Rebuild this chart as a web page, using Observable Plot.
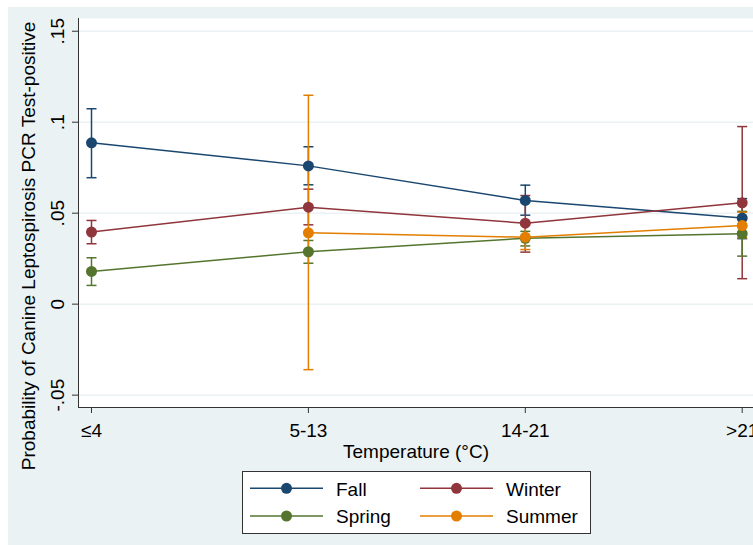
<!DOCTYPE html>
<html><head><meta charset="utf-8">
<script src="https://cdn.jsdelivr.net/npm/d3@7"></script>
<script src="https://cdn.jsdelivr.net/npm/@observablehq/plot@0.6"></script>
<style>
body{margin:0;background:#fff;}
#wrap{position:relative;width:753px;height:545px;overflow:hidden;background:#fff;font-family:"Liberation Sans",Arial,sans-serif;}
#bg{position:absolute;left:8px;top:7px;right:0;bottom:0;background:#eaf2f3;}
#chart{position:absolute;left:0;top:0;}
#legend{position:absolute;left:242px;top:471px;width:347px;height:61px;background:#fff;border:1px solid #333;}
</style></head><body>
<div id="wrap"><div id="bg"></div><div id="chart"></div><div id="legend"></div></div>
<script>
const categories = ["≤4", "5-13", "14-21", ">21"];
const seasons = ["Fall", "Winter", "Spring", "Summer"];
const colors = ["#1a476f", "#90353b", "#55752f", "#e37e00"];

const fallP   = [0.0887, 0.0760, 0.0570, 0.0473];
const fallLo  = [0.0695, 0.0656, 0.0489, 0.0360];
const fallHi  = [0.1074, 0.0865, 0.0654, 0.0580];
const winterP  = [0.0396, 0.0533, 0.0445, 0.0557];
const winterLo = [0.0332, 0.0436, 0.0286, 0.0140];
const winterHi = [0.0460, 0.0632, 0.0597, 0.0976];
const springP  = [0.0180, 0.0288, 0.0362, 0.0387];
const springLo = [0.0103, 0.0225, 0.0320, 0.0264];
const springHi = [0.0255, 0.0350, 0.0400, 0.0510];
const summerP  = [null, 0.0392, 0.0368, 0.0432];
const summerLo = [null, -0.0360, 0.0300, 0.0365];
const summerHi = [null, 0.1148, 0.0435, 0.0505];

const yTicks = [-0.05, 0, 0.05, 0.1, 0.15];
const yTickLabels = ["-.05", "0", ".05", ".1", ".15"];
const yTitle = "Probability of Canine Leptospirosis PCR Test-positive";
const xTitle = "Temperature (°C)";

const series = {
  Fall: [fallP, fallLo, fallHi],
  Winter: [winterP, winterLo, winterHi],
  Spring: [springP, springLo, springHi],
  Summer: [summerP, summerLo, summerHi]
};
const rows = [];
for (const s of seasons) {
  const [P, L, H] = series[s];
  categories.forEach((c, i) => {
    if (P[i] != null) rows.push({season: s, cat: c, pos: i + 1, p: P[i], lo: L[i], hi: H[i]});
  });
}
const caps = rows.flatMap(d => [{season: d.season, pos: d.pos, v: d.lo}, {season: d.season, pos: d.pos, v: d.hi}]);

const capSymbol = {draw(ctx, size) { const h = Math.sqrt(size / Math.PI); ctx.moveTo(-h, 0); ctx.lineTo(h, 0); }};

const xDomain = [0.94007, 4.0521];
const yDomain = [-0.0568, 0.157];
const FONT = "'Liberation Sans', Arial, sans-serif";

const ciMarks = seasons.flatMap(s => [
  Plot.ruleX(rows.filter(d => d.season === s), {x: "pos", y1: "lo", y2: "hi", stroke: "season", strokeWidth: 1.5}),
  Plot.dot(caps.filter(d => d.season === s), {x: "pos", y: "v", stroke: "season", fill: "none", symbol: capSymbol, r: 5, strokeWidth: 1.5})
]);

const chart = Plot.plot({
  width: 753, height: 468,
  marginLeft: 78, marginRight: 0, marginTop: 18, marginBottom: 61,
  style: {background: "transparent", fontFamily: FONT, fontSize: "19px", color: "#000", overflow: "visible"},
  x: {domain: xDomain},
  y: {domain: yDomain},
  color: {domain: seasons, range: colors},
  marks: [
    Plot.frame({fill: "white", stroke: null}),
    Plot.gridY(yTicks, {stroke: "#eaf2f3", strokeOpacity: 1, strokeWidth: 1.5}),
    Plot.ruleX([xDomain[0]], {stroke: "#333"}),
    Plot.ruleY([yDomain[0]], {stroke: "#333"}),
    Plot.axisY({ticks: yTicks, tickFormat: d => yTickLabels[yTicks.indexOf(d)], tickRotate: -90, tickSize: 6, tickPadding: 9, label: null, stroke: "#333", fontSize: 19}),
    Plot.axisX({ticks: [1, 2, 3, 4], tickFormat: d => categories[d - 1], tickSize: 6, tickPadding: 10, label: null, stroke: "#333", fontSize: 19}),
    Plot.text([yTitle], {frameAnchor: "left", rotate: -90, dx: -43.7, dy: 33, lineAnchor: "bottom", textAnchor: "middle", fontSize: 19}),
    Plot.text([xTitle], {frameAnchor: "bottom", dy: 50, lineAnchor: "bottom", fontSize: 19}),
    ...ciMarks,
    Plot.line(rows, {x: "pos", y: "p", stroke: "season", z: "season", strokeWidth: 1.5}),
    Plot.dot(rows, {x: "pos", y: "p", fill: "season", r: 5.5})
  ]
});
document.getElementById("chart").appendChild(chart);

// Legend
const lg = d3.select("#legend").append("svg").attr("width", 347).attr("height", 61)
  .style("font-family", FONT).style("font-size", "19px");
const items = seasons.map((s, i) => ({s, c: colors[i], col: i % 2, row: Math.floor(i / 2)}));
const colX = [7, 177], rowY = [16.3, 44];
const g = lg.selectAll("g").data(items).join("g")
  .attr("transform", d => `translate(${colX[d.col]},${rowY[d.row]})`);
g.append("line").attr("x1", 0).attr("x2", 73).attr("y1", 0).attr("y2", 0).attr("stroke", d => d.c).attr("stroke-width", 1.5);
g.append("circle").attr("cx", 36.5).attr("cy", 0).attr("r", 5.5).attr("fill", d => d.c);
g.append("text").attr("x", 86).attr("y", 7.2).text(d => d.s).attr("fill", "#000");
</script>
</body></html>
